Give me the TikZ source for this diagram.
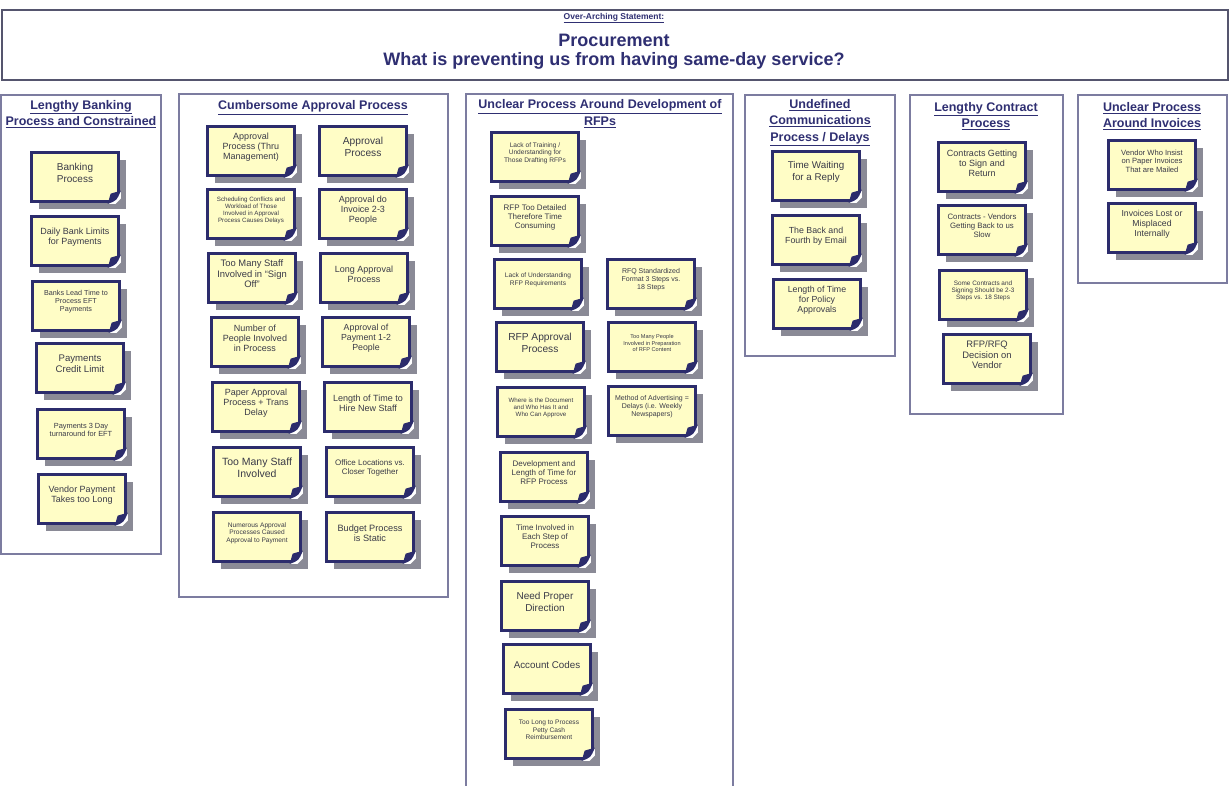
\documentclass[tikz,border=0pt]{standalone}
\usepackage{fontspec}
\setmainfont{Liberation Sans}
\usetikzlibrary{shadows}

\definecolor{notecol}{HTML}{2C2C6C}
\definecolor{notefill}{HTML}{FFFDC6}
\definecolor{shadowcol}{HTML}{8A8A96}
\definecolor{groupcol}{HTML}{7C7CA0}
\definecolor{headcol}{HTML}{2F2F72}
\definecolor{txtcol}{HTML}{3A3A48}
\definecolor{titlecol}{HTML}{55556E}

\tikzset{
  notebox/.style={draw=notecol, line width=2.3pt, fill=notefill,
    minimum width=87pt, minimum height=49pt, inner sep=0pt,
    drop shadow={shadow xshift=7.5pt, shadow yshift=-7.5pt, fill=shadowcol, opacity=1}},
  notetext/.style={align=center, text=txtcol, inner sep=0pt},
  fsz/.style={font=\fontsize{#1}{\dimexpr#1pt*113/100\relax}\selectfont},
  groupbox/.style={draw=groupcol, line width=1.5pt, fill=white},
  header/.style={align=center, text=headcol, inner sep=0pt,
    font=\fontsize{12.5}{16.5}\selectfont\bfseries},
}

% sticky note: name, centre x, centre y, font size, text
\newcommand\stickynote[5]{%
  \node[notebox] (#1) at (#2,#3) {};
  \fill[white] ([xshift=-11pt,yshift=-1.3pt]#1.south east) --
    ([xshift=1.3pt,yshift=-1.3pt]#1.south east) --
    ([xshift=1.3pt,yshift=11pt]#1.south east) -- cycle;
  \fill[shadowcol] ([xshift=-4pt,yshift=-1.3pt]#1.south east) --
    ([xshift=1.3pt,yshift=-1.3pt]#1.south east) --
    ([xshift=1.3pt,yshift=4pt]#1.south east) -- cycle;
  \fill[notecol] ([xshift=-12pt,yshift=-1.2pt]#1.south east)
    .. controls ([xshift=-3pt,yshift=2pt]#1.south east) ..
    ([xshift=1.2pt,yshift=12pt]#1.south east) --
    ([xshift=-9pt,yshift=9pt]#1.south east) -- cycle;
  \node[notetext,fsz=#4] (#1t) at ([yshift=4pt]#1.center) {#5};
}

\begin{document}
\begin{tikzpicture}[x=1pt,y=-1pt]
\useasboundingbox[fill=white] (0,0) rectangle (1232,786);

% statement banner
\node[draw=titlecol, line width=2pt, minimum width=1226pt, minimum height=70pt, inner sep=0pt]
  (title) at (614.5,45) {};
\node[text=headcol, font=\fontsize{8.5}{10}\selectfont\bfseries, inner sep=0pt]
  (stmt) at (614,18) {\underline{Over-Arching Statement:}};
\node[text=headcol, font=\fontsize{18}{20}\selectfont\bfseries, inner sep=0pt]
  (proc) at (614,40) {Procurement};
\node[text=headcol, font=\fontsize{18}{20}\selectfont\bfseries, inner sep=0pt]
  (quest) at (614,60.5) {What is preventing us from having same-day service?};

% category panels
\draw[groupbox] (1,95) rectangle (161,554);
\draw[groupbox] (179,94) rectangle (448,597);
\draw[groupbox] (466,94) rectangle (733,800);
\draw[groupbox] (745,95) rectangle (895,356);
\draw[groupbox] (910,95) rectangle (1063,414);
\draw[groupbox] (1078,95) rectangle (1227,283);

\node[header] (h1) at (81,114) {\underline{Lengthy Banking}\\\underline{Process and Constrained}};
\node[header] (h2) at (313,107.5) {\underline{Cumbersome Approval Process}};
\node[header] (h3) at (600,113.5) {\underline{Unclear Process Around Development of}\\\underline{RFPs}};
\node[header] (h4) at (820,122.5) {\underline{Undefined}\\\underline{Communications}\\\underline{Process / Delays}};
\node[header] (h5) at (986,116) {\underline{Lengthy Contract}\\\underline{Process}};
\node[header] (h6) at (1152,116) {\underline{Unclear Process}\\\underline{Around Invoices}};

% banking
\stickynote{bank1}{75}{177}{10}{Banking\\Process}
\stickynote{bank2}{75}{241}{9}{Daily Bank Limits\\for Payments}
\stickynote{bank3}{76}{306}{7.2}{Banks Lead Time to\\Process EFT\\Payments}
\stickynote{bank4}{80}{368}{9.6}{Payments\\Credit Limit}
\stickynote{bank5}{81}{434}{7.4}{Payments 3 Day\\turnaround for EFT}
\stickynote{bank6}{82}{499}{9}{Vendor Payment\\Takes too Long}

% approval
\stickynote{app1}{251}{151}{9}{Approval\\Process (Thru\\Management)}
\stickynote{app2}{251}{214}{6.2}{Scheduling Conflicts and\\Workload of Those\\Involved in Approval\\Process Causes Delays}
\stickynote{app3}{252}{278}{9.4}{Too Many Staff\\Involved in ``Sign\\Off''}
\stickynote{app4}{255}{342}{9}{Number of\\People Involved\\in Process}
\stickynote{app5}{256}{407}{9}{Paper Approval\\Process + Trans\\Delay}
\stickynote{app6}{257}{472}{10.5}{Too Many Staff\\Involved}
\stickynote{app7}{257}{537}{6.6}{Numerous Approval\\Processes Caused\\Approval to Payment}
\stickynote{app8}{363}{151}{10.2}{Approval\\Process}
\stickynote{app9}{363}{214}{9}{Approval do\\Invoice 2-3\\People}
\stickynote{app10}{364}{278}{9}{Long Approval\\Process}
\stickynote{app11}{366}{342}{8.8}{Approval of\\Payment 1-2\\People}
\stickynote{app12}{368}{407}{9}{Length of Time to\\Hire New Staff}
\stickynote{app13}{370}{472}{8}{Office Locations vs.\\Closer Together}
\stickynote{app14}{370}{537}{9.2}{Budget Process\\is Static}

% RFPs
\stickynote{rfp1}{535}{157}{6.6}{Lack of Training /\\Understanding for\\Those Drafting RFPs}
\stickynote{rfp2}{535}{221}{8}{RFP Too Detailed\\Therefore Time\\Consuming}
\stickynote{rfp3}{538}{284}{6.6}{Lack of Understanding\\RFP Requirements}
\stickynote{rfp4}{651}{284}{7}{RFQ Standardized\\Format 3 Steps vs.\\18 Steps}
\stickynote{rfp5}{540}{347}{10.2}{RFP Approval\\Process}
\stickynote{rfp6}{652}{347}{5.6}{Too Many People\\Involved in Preparation\\of RFP Content}
\stickynote{rfp7}{541}{412}{6.2}{Where is the Document\\and Who Has It and\\Who Can Approve}
\stickynote{rfp8}{652}{411}{7}{Method of Advertising =\\Delays (i.e. Weekly\\Newspapers)}
\stickynote{rfp9}{544}{477}{8}{Development and\\Length of Time for\\RFP Process}
\stickynote{rfp10}{545}{541}{8}{Time Involved in\\Each Step of\\Process}
\stickynote{rfp11}{545}{606}{10}{Need Proper\\Direction}
\stickynote{rfp12}{547}{669}{9.8}{Account Codes}
\stickynote{rfp13}{549}{734}{6.6}{Too Long to Process\\Petty Cash\\Reimbursement}

% communications
\stickynote{com1}{816}{176}{9.8}{Time Waiting\\for a Reply}
\stickynote{com2}{816}{240}{8.8}{The Back and\\Fourth by Email}
\stickynote{com3}{817}{304}{8.8}{Length of Time\\for Policy\\Approvals}

% contracts
\stickynote{con1}{982}{167}{9}{Contracts Getting\\to Sign and\\Return}
\stickynote{con2}{982}{230}{7.8}{Contracts - Vendors\\Getting Back to us\\Slow}
\stickynote{con3}{983}{295}{6.4}{Some Contracts and\\Signing Should be 2-3\\Steps vs. 18 Steps}
\stickynote{con4}{987}{359}{9.4}{RFP/RFQ\\Decision on\\Vendor}

% invoices
\stickynote{inv1}{1152}{165}{7.6}{Vendor Who Insist\\on Paper Invoices\\That are Mailed}
\stickynote{inv2}{1152}{228}{8.7}{Invoices Lost or\\Misplaced\\Internally}
\end{tikzpicture}
\end{document}
